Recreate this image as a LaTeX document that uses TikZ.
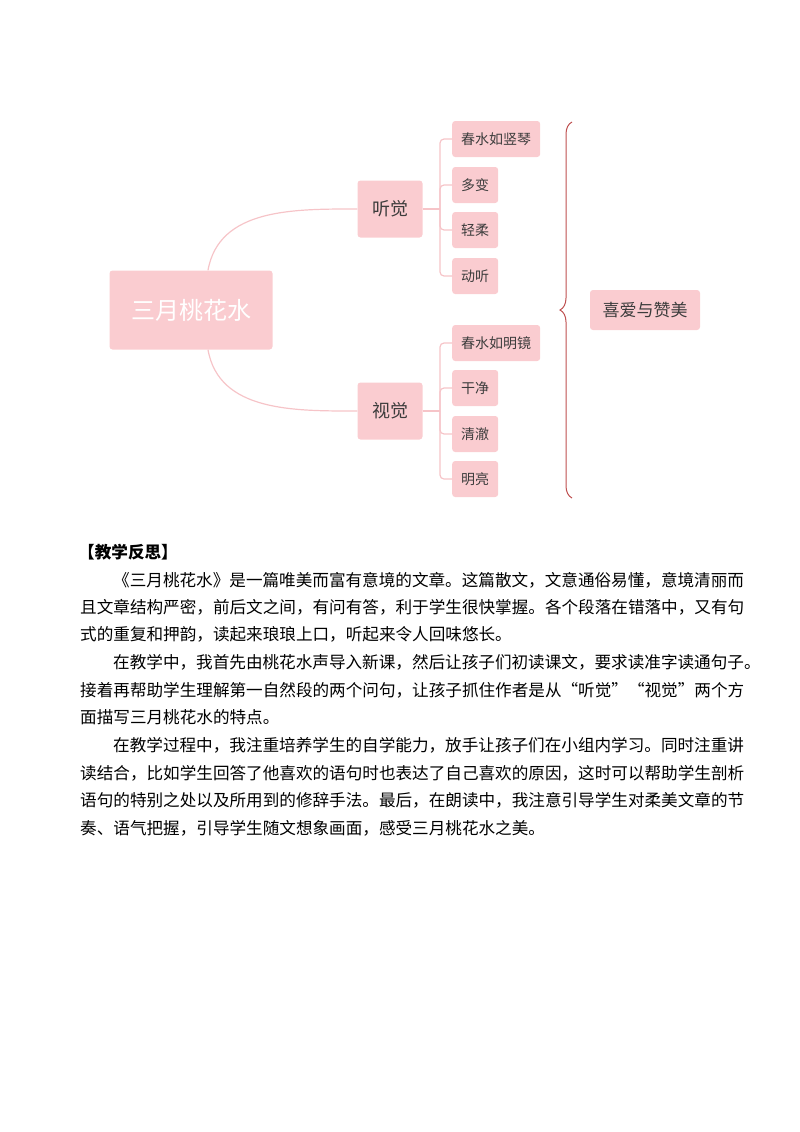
\documentclass[tikz,border=0pt]{standalone}
\usepackage{fontspec}
\setmainfont{Noto Sans CJK SC}
\usetikzlibrary{positioning,decorations.pathreplacing}
\definecolor{boxpink}{RGB}{250,204,208}
\definecolor{linepink}{RGB}{246,196,200}
\definecolor{bracered}{RGB}{190,80,80}
\definecolor{txtgrey}{RGB}{60,60,60}
\tikzset{
  leaf/.style={fill=boxpink,rounded corners=3pt,minimum height=36pt,inner xsep=9pt,
    font=\fontsize{14}{14}\selectfont,text=txtgrey,anchor=west},
  mid/.style={fill=boxpink,rounded corners=3pt,minimum width=65pt,minimum height=57pt,
    font=\fontsize{18}{18}\selectfont,text=txtgrey},
  link/.style={draw=linepink,line width=1.2pt,rounded corners=4pt},
  para/.style={anchor=west,inner sep=0pt,font=\fontsize{16.6}{16.6}\selectfont}
}
\begin{document}
\begin{tikzpicture}[x=1pt,y=-1pt]
\useasboundingbox (0,0) rectangle (800,1132);
% mind map
\node[fill=boxpink,rounded corners=3pt,minimum width=163pt,minimum height=79pt,
  text=white,font=\fontsize{24}{24}\selectfont] (root) at (191,310) {三月桃花水};
\node[mid] (hear) at (390,209) {听觉};
\node[mid] (see) at (390,411) {视觉};
\node[leaf] (h1) at (452,139) {春水如竖琴};
\node[leaf] (h2) at (452,185) {多变};
\node[leaf] (h3) at (452,230) {轻柔};
\node[leaf] (h4) at (452,276) {动听};
\node[leaf] (s1) at (452,343) {春水如明镜};
\node[leaf] (s2) at (452,388) {干净};
\node[leaf] (s3) at (452,434) {清澈};
\node[leaf] (s4) at (452,479) {明亮};
\node[fill=boxpink,rounded corners=3pt,minimum width=110pt,minimum height=40pt,
  font=\fontsize{17}{17}\selectfont,text=txtgrey] (love) at (645,310) {喜爱与赞美};
\draw[draw=linepink,line width=1.2pt] ([xshift=17pt]root.north) to[out=80,in=180] (hear.west);
\draw[draw=linepink,line width=1.2pt] ([xshift=17pt]root.south) to[out=-80,in=180] (see.west);
\coordinate (hj) at (440,209);
\coordinate (sj) at (440,411);
\draw[link] (hear.east) -- (hj);
\draw[link] (see.east) -- (sj);
\foreach \n in {h1,h2,h3,h4} \draw[link] (hj) |- (\n.west);
\foreach \n in {s1,s2,s3,s4} \draw[link] (sj) |- (\n.west);
\coordinate (btop) at (572,122);
\coordinate (bbot) at (572,498);
\draw[bracered,line width=1pt,decorate,decoration={brace,amplitude=12pt,mirror}] (btop) -- (bbot);
% reflection text
\node[para,font=\fontsize{16.6}{16.6}\selectfont\bfseries] (head) at (78,552) {【教学反思】};
\node[para] (p1) at (80,580) {\hspace{33pt}《三月桃花水》是一篇唯美而富有意境的文章。这篇散文，文意通俗易懂，意境清丽而};
\node[para] (p2) at (80,607) {且文章结构严密，前后文之间，有问有答，利于学生很快掌握。各个段落在错落中，又有句};
\node[para] (p3) at (80,634) {式的重复和押韵，读起来琅琅上口，听起来令人回味悠长。};
\node[para] (p4) at (80,662) {\hspace{33pt}在教学中，我首先由桃花水声导入新课，然后让孩子们初读课文，要求读准字读通句子。};
\node[para] (p5) at (80,690) {接着再帮助学生理解第一自然段的两个问句，让孩子抓住作者是从“听觉”“视觉”两个方};
\node[para] (p6) at (80,717) {面描写三月桃花水的特点。};
\node[para] (p7) at (80,745) {\hspace{33pt}在教学过程中，我注重培养学生的自学能力，放手让孩子们在小组内学习。同时注重讲};
\node[para] (p8) at (80,773) {读结合，比如学生回答了他喜欢的语句时也表达了自己喜欢的原因，这时可以帮助学生剖析};
\node[para] (p9) at (80,800) {语句的特别之处以及所用到的修辞手法。最后，在朗读中，我注意引导学生对柔美文章的节};
\node[para] (p10) at (80,828) {奏、语气把握，引导学生随文想象画面，感受三月桃花水之美。};
\end{tikzpicture}
\end{document}
